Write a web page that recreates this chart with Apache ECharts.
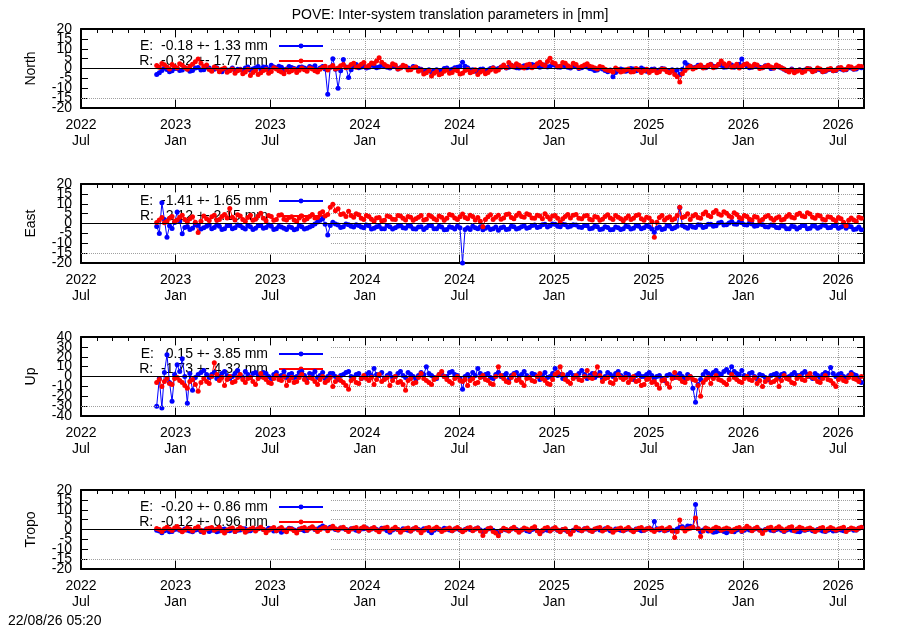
<!DOCTYPE html>
<html>
<head>
<meta charset="utf-8">
<title>POVE inter-system translation parameters</title>
<script src="https://cdn.jsdelivr.net/npm/echarts@6/dist/echarts.min.js"></script>
<style>
  html, body { margin: 0; padding: 0; background: #fff; }
  #main { width: 900px; height: 630px; }
</style>
</head>
<body>
<div id="main"></div>
<script>
// daily solutions, sampled every 5 days from the first day
const firstDay = '2022-11-25';
const stepDays = 5;

const panelNames = ['North', 'East', 'Up', 'Tropo'];
const yLimits = [20, 20, 40, 20];
const yIntervals = [5, 5, 10, 5];
const labelsE = ['E:  -0.18 +- 1.33 mm', 'E:  -1.41 +- 1.65 mm', 'E:   0.15 +- 3.85 mm', 'E:  -0.20 +- 0.86 mm'];
const labelsR = ['R:  -0.32 +- 1.77 mm', 'R:   2.12 +- 2.15 mm', 'R:  -1.73 +- 4.32 mm', 'R:  -0.12 +- 0.96 mm'];

const northE = [
  -3.0, -2.2, -1.0, 0.2, -0.5, -1.6, -1.2, 0.0, 0.0, -1.0, -0.8, 0.4, -0.2, -1.4, -1.0, 0.2, 0.5, -0.8, -0.6, 0.6,
  0.2, -1.0, -0.4, 0.4, -0.9, -1.6, -0.2, -0.8, -0.7, 0.2, -1.2, -0.4, -0.4, -1.0, 0.2, 0.8, -0.8, -0.2, 0.4, 1.0,
  -0.2, 0.8, 0.6, -0.4, 1.6, 0.8, 0.2, 1.2, 0.6, -0.6, -0.2, 1.0, 0.5, 0.0, -0.4, 0.6, 0.8, 0.2, -0.3, 1.0,
  0.4, 1.4, -0.6, 0.2, 1.0, -0.2, -13.0, 0.6, 5.0, -0.4, -10.0, -1.2, 4.5, 0.8, -4.5, -0.6, 1.0, 2.0, 0.4, 0.8,
  1.2, 0.2, 0.6, 1.8, 1.4, 0.4, 0.8, 1.6, 1.2, 0.6, 0.2, 1.2, 1.0, -0.2, 0.4, 1.2, 0.8, 0.2, -0.2, 1.0,
  0.6, 0.0, -0.4, -1.6, -1.2, -0.6, -1.8, -1.0, -0.6, -1.4, -1.0, 0.0, 0.2, -0.8, -0.4, 0.4, 0.6, 1.0, 3.2, 1.2,
  0.4, -0.8, -0.6, -1.4, -1.2, -0.4, -0.2, -1.0, -0.8, 0.0, 0.4, -0.4, 0.0, 0.8, 1.2, 0.2, 0.6, 1.6, 1.0, 0.4,
  0.2, 0.8, 1.4, 0.4, 0.8, 2.0, 1.6, 1.0, 0.6, 1.4, 1.8, 0.8, 1.0, 2.0, 1.6, 0.8, 0.6, 1.8, 1.2, 0.6,
  0.2, 1.2, 1.0, 0.0, 0.4, 1.2, 0.8, 0.0, -0.2, -1.0, -0.8, 0.2, -0.2, -1.0, -1.6, -0.8, -4.2, -2.0, -1.2, -0.2,
  -0.6, -1.4, -1.0, 0.0, -0.2, -1.2, -0.8, 0.2, -0.4, -1.4, -1.0, -0.4, -0.2, -1.2, -0.8, 0.0, -0.2, -1.0, -1.2, -0.6,
  -1.6, -0.8, -3.0, -0.4, 3.0, 1.8, 1.2, 0.4, 0.6, 1.6, 1.4, 0.6, 0.4, 1.4, 2.2, 1.2, 0.8, 2.0, 1.6, 0.6,
  0.8, 2.0, 1.8, 0.6, 1.0, 2.2, 4.8, 2.0, 1.2, 0.4, 0.6, 1.6, 1.4, 0.6, 0.4, 1.4, 1.0, 0.0, 0.2, 1.2,
  0.8, 0.2, -0.4, -1.2, -1.0, -0.2, -1.6, -1.0, -0.6, -1.4, -0.8, 0.0, -0.2, -1.0, -1.2, -0.2, -0.6, -1.6, -1.4, -0.6,
  -0.4, -1.2, -1.0, 0.2, -0.2, -0.8, -0.6, 0.4, 0.2, -0.4, -0.2, 0.8, 0.4
];
const northR = [
  1.5, 0.6, 2.5, 1.9, 0.8, -0.2, 2.0, 1.0, 0.3, 2.4, 1.6, 0.5, -0.4, 1.2, 2.2, 3.4, 4.8, 2.6, 1.0, 1.8,
  -0.5, -1.4, 0.8, 0.1, -1.6, -0.4, 0.2, -1.9, -1.2, -0.3, -2.4, -1.2, -0.6, -2.6, -1.8, -0.4, -3.5, -2.0, -1.0, -3.0,
  -2.2, -1.0, -0.5, -2.4, -1.5, 0.4, -0.2, -1.1, -1.8, -2.6, -0.6, -1.8, -1.2, -0.4, -2.0, -0.9, 0.3, -0.6, -1.4, 0.2,
  -0.3, -1.2, -1.8, -0.4, 0.5, 1.1, -0.8, 0.6, 1.5, -0.2, 0.2, 1.4, 2.0, 0.4, 0.8, 2.0, 2.6, 0.6, 1.2, 2.2,
  3.0, 0.8, 1.5, 2.8, 2.5, 3.8, 5.5, 3.2, 2.0, 1.2, 0.8, 2.4, 1.8, -0.2, 0.2, 1.6, 1.2, -0.8, -0.6, 0.4,
  0.8, -1.4, -0.8, -2.8, -2.2, -1.0, -3.8, -2.4, -1.5, -3.2, -2.6, -1.4, -0.8, -2.4, -2.0, -0.6, -1.2, -2.8, -2.4, -1.0,
  -0.5, -2.2, -1.6, -0.6, -3.0, -1.8, -1.0, -2.6, -2.0, -0.8, 0.2, -1.4, -0.8, 0.6, 1.8, 0.4, 3.0, 1.6, 0.8, 2.4,
  1.6, 0.6, 0.2, 1.8, 2.2, 0.4, 1.0, 2.4, 3.2, 2.0, 1.5, 3.6, 5.2, 3.0, 2.5, 0.9, 1.2, 3.0, 2.6, 1.4,
  0.8, 2.6, 2.0, 0.4, 1.0, 1.8, 2.4, 1.2, 0.8, 0.2, -0.3, 1.0, 0.6, -0.4, -0.9, -1.2, -1.8, 0.2, -0.5, -1.8,
  -1.4, -0.6, -0.2, -1.8, -1.6, 0.0, -0.6, -2.0, -1.2, -0.4, -2.0, -1.2, -0.8, -2.2, -1.6, -0.2, -0.4, -1.6, -2.2, -1.2,
  -3.0, -4.2, -6.8, -2.6, -1.0, 0.2, 1.2, -0.2, 0.4, 1.0, 1.8, 0.2, 0.6, 1.6, 2.0, 0.4, 1.0, 2.2, 3.8, 2.4,
  1.4, 2.6, 0.6, 1.2, 2.2, 0.2, 1.0, 2.0, 2.4, 1.4, 0.8, 2.2, 1.8, 0.0, 0.4, 1.2, 1.6, 0.8, 0.2, 1.8,
  1.2, 0.4, -0.2, -1.0, -1.8, -0.6, -2.2, -1.4, -0.8, -2.0, -1.4, 0.0, -0.2, -1.6, -1.0, 0.2, -0.3, -1.6, -1.2, -0.4,
  0.0, -1.2, -0.8, 0.2, 0.5, -0.6, -0.4, 1.0, 0.8, -0.2, 0.2, 1.2, 1.0
];
const eastE = [
  -1.5, -5.0, 10.5, 2.0, -7.0, -1.2, -2.5, 0.5, 5.8, 1.0, -5.2, -2.0, -1.5, -3.0, -2.4, -0.8, -1.0, -2.8, -2.2, -1.4,
  -0.8, -2.6, -2.0, -0.6, -1.4, -3.0, -2.6, -1.2, -1.0, -2.6, -2.2, -0.8, -1.2, -2.2, -2.8, -1.0, -1.6, -3.0, -2.4, -1.2,
  -1.0, -2.4, -2.0, -0.8, -1.4, -3.0, -2.6, -1.4, -1.8, -2.4, -3.0, -1.6, -2.0, -3.2, -2.8, -1.2, -1.6, -2.8, -2.4, -1.8,
  -1.2, -0.2, 0.8, 1.6, 2.4, -0.4, -5.8, -1.0, 0.6, -0.2, -0.8, -2.0, -1.6, -0.2, -0.6, -1.4, -1.8, -0.6, -1.0, -1.8,
  -2.2, -0.8, -1.2, -2.8, -2.4, -1.6, -1.4, -2.6, -2.6, -1.0, -1.6, -2.8, -2.2, -1.4, -1.0, -2.2, -2.4, -1.2, -1.4, -2.6,
  -2.8, -1.8, -1.6, -3.0, -2.2, -1.0, -1.2, -2.6, -2.6, -1.4, -1.8, -3.2, -3.0, -1.6, -2.0, -2.8, -1.4, -2.2, -20.0, -3.0,
  -2.2, -3.0, -1.4, -2.2, -2.6, -1.6, -3.2, -2.4, -1.8, -3.0, -2.6, -1.8, -3.4, -2.2, -1.8, -3.0, -2.8, -1.4, -1.6, -2.8,
  -2.4, -1.6, -1.2, -2.4, -2.0, -1.0, -0.8, -2.0, -1.6, -0.6, -0.4, -1.8, -1.2, -0.2, -0.4, -1.4, -1.6, -0.4, -0.6, -1.8,
  -1.4, -0.6, -0.8, -1.8, -2.0, -1.0, -1.2, -2.6, -2.4, -1.4, -1.6, -3.0, -2.8, -1.6, -2.0, -3.2, -3.0, -1.8, -2.2, -3.0,
  -2.6, -1.4, -1.6, -2.8, -2.4, -1.2, -1.4, -2.6, -2.2, -1.2, -1.6, -2.8, -4.4, -2.4, -1.8, -3.0, -2.6, -1.2, -1.4, -2.6,
  -2.2, -1.4, 8.0, -1.0, -1.8, -2.4, -1.0, -1.8, -2.0, -0.6, -0.8, -2.0, -1.6, -0.4, -0.4, -1.4, -1.2, 0.2, 0.6, -0.8,
  -0.6, 0.2, 1.0, -0.2, -0.4, 0.8, 0.4, -0.6, -0.8, 0.2, -0.2, -1.4, -1.2, -0.2, -0.6, -1.6, -1.8, -0.8, -1.0, -2.0,
  -2.2, -1.0, -1.4, -2.6, -2.6, -1.4, -1.6, -2.8, -2.0, -1.0, -1.2, -2.6, -2.4, -1.2, -1.4, -2.4, -1.8, -0.8, -1.0, -2.2,
  -2.0, -1.0, -1.2, -2.4, -1.8, -1.2, -2.4, -1.4, -1.6, -3.0, -2.8, -1.8, -3.2
];
const eastR = [
  0.5, 1.8, 3.0, 0.4, 1.2, 2.6, 3.6, 1.0, 1.8, 3.2, 4.2, 2.0, 0.8, 2.4, 3.4, 0.6, -4.5, 1.2, 3.8, 2.4,
  1.5, 3.4, 4.2, 1.6, 2.0, 3.6, 4.6, 2.8, 7.6, 3.2, 1.8, 4.4, 3.8, 2.0, 1.2, 3.0, 4.2, 1.6, 2.2, 3.8,
  5.2, 2.6, 1.4, 4.0, 3.6, 1.6, 2.0, 4.2, 4.4, 2.2, 1.8, 3.0, 3.4, 1.8, 1.0, 2.8, 3.8, 1.6, 2.4, 3.6,
  4.6, 2.8, 3.0, 5.2, 6.0, 3.8, 4.5, 8.2, 9.8, 6.4, 7.5, 4.6, 5.0, 3.6, 6.2, 4.0, 3.2, 5.0, 4.4, 2.6,
  2.0, 4.0, 3.6, 2.2, 1.2, 2.8, 3.0, 1.4, 1.6, 3.8, 3.4, 2.2, 2.0, 4.0, 3.8, 2.6, 1.8, 3.6, 3.2, 1.6,
  2.4, 3.2, 4.0, 1.8, 2.2, 4.2, 3.6, 2.4, 1.8, 3.8, 3.2, 1.6, 2.6, 4.6, 4.2, 2.8, 2.0, 3.4, 4.8, 3.0,
  2.4, 4.2, 3.6, 1.8, 3.0, 1.2, -1.6, 2.0, 3.4, 4.4, 2.0, 3.2, 4.2, 2.2, 2.8, 4.6, 4.8, 3.0, 2.4, 4.0,
  5.2, 3.6, 3.2, 5.0, 4.4, 2.8, 2.6, 4.2, 3.8, 2.4, 5.0, 3.4, 2.2, 3.8, 4.0, 2.6, 0.8, 2.4, 3.6, 4.6,
  2.8, 4.2, 4.6, 2.6, 2.4, 3.8, 4.0, 2.2, 1.8, 3.6, 3.2, 1.6, 2.2, 3.6, 4.4, 2.8, 2.0, 4.0, 3.2, 2.4,
  1.4, 2.6, 3.8, 2.0, 2.6, 4.0, 4.4, 2.4, 1.6, 3.2, 2.8, 1.0, -7.0, 0.6, 3.0, 4.0, 1.8, 2.8, 3.4, 1.8,
  2.4, 4.0, 8.2, 3.0, 3.6, 5.0, 2.0, 3.8, 4.6, 3.0, 2.6, 4.8, 5.8, 4.0, 3.4, 5.6, 6.6, 4.8, 4.2, 6.0,
  5.2, 3.8, 3.2, 5.4, 4.6, 3.0, 2.4, 4.0, 3.6, 2.2, 1.8, 3.6, 3.2, 1.4, 2.0, 3.4, 4.0, 2.6, 1.6, 2.8,
  3.4, 1.8, 2.2, 3.6, 4.6, 3.2, 2.8, 4.6, 5.2, 3.8, 3.4, 5.4, 4.8, 3.2, 2.6, 4.2, 3.8, 2.2, 1.8, 3.4,
  3.2, 2.0, 1.4, 3.0, 2.4, 0.6, -1.2, 1.6, 2.8, 1.8, 1.0, 3.2, 2.6
];
const upE = [
  -30, -2, -32, 4, 22, -6, -25, 2, 12, 5, 18, 0, -27, 3, -14, -1, 2, 4, 6, 2,
  -1, 2, 4, -2, 0, 3, 5, 1, -2, 0, 3, 6, 1, -1, 5, 2, -1, 3, 4, 1,
  0, 4, 3, 0, -2, 2, 4, 0, 1, 5, -1, 2, 3, -1, 0, 4, 5, 1, -2, 3,
  2, 5, -1, 1, 4, -2, 0, 3, 3, 0, -3, 1, 2, 4, 5, 0, -1, 2, 3, -2,
  0, 2, 4, 1, 8, 2, 1, 4, -2, 1, 3, -1, 0, 3, 5, 1, -1, 4, 2, 0,
  -3, 1, 4, 2, 10, 3, 1, -1, -2, 2, 3, 0, 0, 4, 5, 2, 1, -2, -13, 0,
  2, -1, 4, 1, 8, 3, 0, 2, 3, -1, -2, 2, 4, 0, 1, 3, -3, 1, 3, 4,
  0, 2, 5, 1, -1, 3, 2, 0, -3, 1, 4, -1, 0, 3, 8, 1, 2, -2, -1, 2,
  4, 1, 0, 3, 6, 2, -2, 1, 3, -1, 1, 4, -2, 0, 4, 2, 0, 3, 5, 1,
  -1, 3, 2, -1, -3, 1, 3, 0, 0, 2, 4, 1, -2, 0, 1, -2, -4, 1, 2, 0,
  -1, 1, 3, 0, -2, 2, 0, -12, -26, -8, -3, 2, 5, 3, 1, 4, 6, 3, 2, 5,
  7, 4, 10, 5, 3, 2, 6, 1, 0, 3, 4, 0, -2, 2, 1, -1, -3, 1, 2, 3,
  -1, 2, 3, -1, 0, 2, 4, 1, 1, 3, 5, 2, 0, -2, 3, 1, -1, 2, 4, 3,
  9, 3, 0, 2, 3, 0, -2, 1, 4, 2, 1, -3, -6
];
const upR = [
  -6, -3, -10, -5, -2, -7, -8, -2, -1, -4, -6, -9, -12, -5, -3, -8, -15, -6, -2, -5,
  -7, 0, 14, 2, -4, -1, -9, -3, 0, -6, -5, -1, 2, -3, -6, -2, -1, -5, -8, -2,
  3, -1, -3, -6, -7, -2, 1, -3, -4, 0, -9, -4, -1, -6, -5, -1, 2, -3, -6, -1,
  -2, -5, -8, -3, 0, -6, -4, -1, -10, -5, -1, -4, -6, -9, -13, -4, -2, -6, -7, -2,
  1, -2, -4, -1, -8, -3, 2, -5, -3, -1, -9, -4, 0, -6, -5, -8, -14, -4, -2, -7,
  -6, -1, 3, -2, -4, -6, -8, -3, -1, 2, 5, 0, -3, -5, -7, -2, 0, -4, -5, -3,
  -9, -4, -2, -7, -6, -1, 1, -3, -4, -7, -8, 0, 10, 1, -2, -5, -6, -1, 2, -4,
  -3, -6, -9, -2, -1, -4, -5, 0, 3, -2, -4, -7, -8, -3, 2, 4, 10, 2, -3, -5,
  -7, -2, 1, -3, -4, 0, 6, -1, -2, 3, 10, 1, -5, -2, -1, -6, -7, -3, 2, -1,
  -3, -1, -6, -3, 0, -5, -4, -9, -8, -3, -2, -6, -5, -8, -12, -4, -3, -7, -11, -2,
  4, -1, -2, -5, -6, -2, 0, -3, -4, -9, -20, -6, -3, -1, -7, -2, 1, -3, -4, -6,
  -8, -3, 2, -1, -3, -5, -6, -2, 0, -3, -4, -1, -7, -4, -10, -5, -2, -6, -5, -3,
  -10, -4, 1, -2, -3, -6, -7, -2, 0, -3, -4, 0, 3, -1, -2, -5, -6, -2, 1, -3,
  -4, -7, -10, -3, -1, -4, -5, -1, 2, -2, -3, -5, 0
];
const tropoE = [
  -0.4, -0.8, -1.6, -0.6, -0.2, -1.2, -1.0, 0.0, 0.2, -0.4, -0.8, 0.2, -0.4, -0.8, -1.2, -0.2, 0.0, -1.0, -0.6, 0.2,
  -1.0, -0.4, -0.2, -1.2, -0.8, 0.0, 0.2, -0.6, -0.6, 0.2, -1.0, -0.4, -0.2, 0.4, 0.4, -0.8, -0.6, 0.2, -0.2, 0.4,
  0.8, 0.0, -0.4, 0.6, 0.2, -0.8, -0.6, 0.2, -1.4, -0.6, -0.2, 0.6, 0.4, -0.2, -0.8, 0.2, 0.0, -0.6, -0.4, 0.6,
  1.0, 0.0, 0.2, 1.0, 1.8, 0.6, 0.4, 1.2, 0.8, 0.0, -0.2, 0.8, 0.6, 0.0, -0.4, 0.4, 0.2, -0.4, -0.8, 0.2,
  0.4, 0.8, -0.2, 0.2, 0.8, 0.0, -0.4, 0.6, 0.2, -0.6, -1.4, -0.2, 0.4, 0.0, -0.6, 0.4, 0.0, -0.4, -0.8, 0.2,
  0.6, 0.0, -0.4, 0.4, 0.2, -0.6, -1.6, -0.4, 0.4, 0.0, -0.2, 0.6, 0.2, -0.2, -0.6, 0.2, 0.4, -0.2, -0.8, 0.0,
  0.6, 0.0, -0.4, 0.2, 0.8, -0.2, -1.2, -0.4, 0.2, 0.6, -0.4, -1.0, -1.8, -0.6, 0.2, -0.2, -0.6, 0.2, 0.8, 0.0,
  -0.8, -0.2, 0.2, -0.6, -1.0, 0.0, 0.4, -0.6, -1.6, -0.8, 0.0, -0.4, -0.6, 0.2, 0.4, -0.4, -0.8, 0.0, -0.2, -1.0,
  -1.8, -0.4, 0.4, -0.2, -0.6, 0.4, 0.2, -0.4, -0.8, 0.0, 0.6, -0.2, -0.4, 0.4, 0.2, -0.6, -0.8, 0.2, 0.0, -0.4,
  -0.6, 0.0, 0.4, -0.2, -0.6, 0.2, 0.0, -0.6, -0.4, 0.2, 0.6, 0.0, 4.0, 0.4, -0.2, 0.2, -0.6, -0.2, 0.2, -0.4,
  -0.8, 0.2, 1.0, 1.4, 0.4, 1.8, 1.6, 1.2, 12.6, 0.4, -1.0, -0.2, 0.6, -0.8, -0.6, -1.4, -1.2, -0.6, -0.4, -1.0,
  -1.6, -0.8, -0.6, -1.2, -0.2, 0.2, -1.0, -0.4, 0.4, -0.2, -0.4, 0.2, 0.6, -0.2, -0.8, 0.0, 0.2, -0.4, -0.6, 0.0,
  0.4, -0.4, -1.0, -0.2, 0.2, -0.4, -0.6, -1.0, -1.2, -0.2, -0.4, 0.0, 0.2, -0.6, -0.8, 0.0, -0.2, -0.8, -1.0, -0.4,
  0.0, -0.8, -0.6, 0.0, -0.2, -0.6, -0.8, 0.0, 0.4, -0.4, -0.2, 0.6, 1.0
];
const tropoR = [
  0.5, 0.0, -1.0, 0.4, 1.2, 0.2, -0.5, 0.8, 1.5, 0.0, -1.2, -0.2, 0.8, 0.2, -0.8, 0.6, 1.4, -0.4, -1.5, 0.2,
  0.6, 1.0, -0.4, 0.2, 1.2, -0.6, -1.8, -0.2, 0.4, 0.8, -1.0, 0.0, 1.0, 0.2, -1.4, -0.4, 0.2, 0.8, -0.8, 0.4,
  1.2, 0.0, -1.6, -0.4, 0.4, 1.0, -0.6, 0.2, 1.0, -0.2, -1.2, 0.4, 0.2, -0.6, -1.8, 0.0, 0.6, 1.0, -0.4, 0.6,
  1.4, 0.2, -1.0, 0.0, 0.8, 1.2, -0.6, 0.6, 1.6, 0.4, -0.2, 0.8, 1.2, 0.0, -1.0, 0.2, 0.6, 1.0, -0.8, 0.6,
  1.4, 0.6, -0.4, 0.4, 1.0, -0.2, -1.2, 0.2, 0.8, 1.2, -0.6, 0.2, 1.2, 0.0, -1.4, -0.2, 0.4, 0.8, -0.8, 0.2,
  1.0, -0.2, -1.6, -0.4, 0.6, 1.0, -0.4, 0.4, 1.2, 0.2, -1.0, -0.2, 0.2, 0.8, -0.6, 0.2, 1.0, 0.0, -1.2, -0.2,
  0.6, 1.0, -0.6, 0.2, 0.8, -0.8, -3.0, -1.0, 0.4, 0.8, -1.0, -1.8, -3.2, -0.6, 0.6, 0.0, -0.8, 0.4, 1.2, -0.2,
  -1.4, -0.2, 0.8, 0.2, -0.4, 0.6, 1.4, -0.6, -2.2, -0.4, 0.6, 1.0, -0.8, 0.2, 1.0, -0.2, -1.2, 0.0, 0.4, -1.0,
  -2.4, -0.6, 1.2, 0.4, -0.6, 0.2, 0.8, -0.4, -1.0, 0.2, 0.6, 1.0, -0.8, 0.0, 1.0, 0.2, -1.4, -0.2, 0.4, 0.8,
  -0.6, 0.2, 1.0, -0.2, -1.2, 0.0, 0.6, 1.0, -0.4, 0.2, 0.8, -0.2, -1.0, 0.0, 0.4, 0.8, -0.6, 0.2, 1.0, -0.8,
  -4.0, -1.0, 4.8, 0.6, -0.8, 0.2, 0.6, 1.2, 5.8, 0.4, -3.6, -0.8, 0.8, 0.2, -0.6, 0.4, 1.2, 0.6, -0.4, 0.2,
  0.8, 0.2, -1.0, 0.0, 0.6, 1.0, -0.8, 0.4, 1.6, 0.8, -0.6, 0.4, 1.2, -0.4, -2.0, -0.2, 0.8, 1.2, -0.4, 0.6,
  1.4, 0.4, -0.8, 0.2, 1.0, 1.4, -0.6, 0.2, 1.2, 0.6, -0.2, 0.4, 0.8, 0.0, -1.0, -0.2, 0.6, 1.0, -0.8, 0.2,
  1.0, 0.4, -0.4, 0.2, 0.6, 1.2, -1.0, 0.0, 0.8, 0.4, -0.2, 0.6, 1.2
];

const valuesE = [northE, eastE, upE, tropoE];
const valuesR = [northR, eastR, upR, tropoR];

// layout
const panelTop = [29, 184, 337, 490];
const panelHeight = 79;
const xMax = 49.65;            // months after 2022 Jul 1 at the right frame
const font = '"Liberation Sans", Arial, sans-serif';
const blue = '#0000ff';
const red = '#ff0000';
const gridGrey = '#a0a0a0';

// x axis unit: months since 2022-07-01
function monthPos(t) {
  const d = new Date(t);
  const y = d.getUTCFullYear(), m = d.getUTCMonth();
  const dim = new Date(Date.UTC(y, m + 1, 0)).getUTCDate();
  return (y - 2022) * 12 + m - 6 + (d.getUTCDate() - 1) / dim;
}
const t0 = Date.parse(firstDay + 'T00:00:00Z');
function toPairs(vals) {
  return vals.map((v, i) => [monthPos(t0 + i * stepDays * 86400000), v]);
}

function xLabel(v) {
  if (Math.abs(v % 6) > 1e-6) return '';
  const yr = 2022 + Math.floor((v + 6) / 12);
  return yr + '\n' + (v % 12 === 0 ? 'Jul' : 'Jan');
}

const grids = [], xAxes = [], yAxes = [], series = [], legends = [], graphics = [];
const tickStyle = { color: '#000', width: 1 };
const frameLine = { show: true, onZero: false, lineStyle: { color: '#000', width: 2 } };
const labelFont = { color: '#000', fontSize: 14, fontFamily: font };

panelNames.forEach((name, p) => {
  const lim = yLimits[p];
  const step = yIntervals[p];
  grids.push({ left: 81, right: 36, top: panelTop[p], height: panelHeight, outerBoundsMode: 'none' });

  const xBase = {
    gridIndex: p, type: 'value', min: 0, max: xMax,
    axisLine: { show: false, onZero: false },
    axisTick: { show: false },
    axisLabel: { show: false },
    splitLine: { show: false }
  };
  // labelled axis with the 6-month grid and long ticks
  xAxes.push(Object.assign({}, xBase, {
    interval: 6,
    axisLine: frameLine,
    axisTick: { show: true, inside: true, length: 8, lineStyle: tickStyle },
    axisLabel: Object.assign({
      show: true, margin: 9, lineHeight: 16, formatter: xLabel, showMinLabel: true
    }, labelFont),
    splitLine: { show: true, lineStyle: { color: gridGrey, type: 'dotted', width: 1 } }
  }));
  // monthly ticks, bottom
  xAxes.push(Object.assign({}, xBase, {
    interval: 1,
    axisTick: { show: true, inside: true, length: 4, lineStyle: tickStyle }
  }));
  // top mirror: monthly and 6-month ticks
  xAxes.push(Object.assign({}, xBase, {
    position: 'top', interval: 1,
    axisLine: frameLine,
    axisTick: { show: true, inside: true, length: 4, lineStyle: tickStyle }
  }));
  xAxes.push(Object.assign({}, xBase, {
    position: 'top', interval: 6,
    axisTick: { show: true, inside: true, length: 8, lineStyle: tickStyle }
  }));

  const yBase = {
    gridIndex: p, type: 'value', min: -lim, max: lim,
    axisLine: { show: false, onZero: false },
    axisTick: { show: false },
    axisLabel: { show: false },
    splitLine: { show: false }
  };
  // main left axis: frame, ticks, grid, odd-step labels
  yAxes.push(Object.assign({}, yBase, {
    position: 'left', interval: step,
    axisLine: frameLine,
    axisTick: { show: true, inside: true, length: 7, lineStyle: tickStyle },
    axisLabel: Object.assign({
      show: true, margin: 9, showMinLabel: true, showMaxLabel: true,
      formatter: v => (Math.round(v / step) % 2 !== 0 ? String(v) : '')
    }, labelFont),
    splitLine: { show: true, lineStyle: { color: gridGrey, type: 'dotted', width: 1 } }
  }));
  // second left axis: even-step labels and the axis name
  yAxes.push(Object.assign({}, yBase, {
    position: 'left', interval: step * 2,
    name: name, nameLocation: 'middle', nameGap: 43, nameRotate: 90,
    nameTextStyle: labelFont,
    axisLabel: Object.assign({ show: true, margin: 9, showMinLabel: true, showMaxLabel: true }, labelFont)
  }));
  // right mirror
  yAxes.push(Object.assign({}, yBase, {
    position: 'right', interval: step,
    axisLine: frameLine,
    axisTick: { show: true, inside: true, length: 7, lineStyle: tickStyle }
  }));

  const common = {
    type: 'line', xAxisIndex: p * 4, yAxisIndex: p * 3,
    symbol: 'circle', symbolSize: 5, animation: false, clip: true
  };
  series.push(Object.assign({}, common, {
    name: name + ' E', data: toPairs(valuesE[p]),
    lineStyle: { width: 1, color: blue }, itemStyle: { color: blue }
  }));
  series.push(Object.assign({}, common, {
    name: name + ' R', data: toPairs(valuesR[p]),
    lineStyle: { width: 1, color: red }, itemStyle: { color: red },
    markLine: {
      silent: true, symbol: 'none', animation: false, label: { show: false },
      data: [
        { yAxis: 0, lineStyle: { color: '#000', type: 'solid', width: 1 } },
        { yAxis: -lim * 0.75, lineStyle: { color: gridGrey, type: 'dotted', width: 1 } }
      ]
    }
  }));

  [[name + ' E', labelsE[p], 17], [name + ' R', labelsR[p], 32]].forEach(([sname, text, dy]) => {
    legends.push({
      data: [sname], right: 576, top: panelTop[p] + dy - 7,
      align: 'right', padding: 0, itemWidth: 44, itemHeight: 6,
      selectedMode: false, z: 1.5, formatter: () => text,
      textStyle: Object.assign({ padding: [0, 6, 0, 0] }, labelFont)
    });
  });

  // key box hides the grid behind it
  graphics.push({
    type: 'rect', silent: true, z: 1,
    left: 89, top: panelTop[p] + 9,
    shape: { width: 241, height: panelHeight - 18 },
    style: { fill: '#fff' }
  });
});

graphics.push({
  type: 'text', left: 8, top: 614, silent: true,
  style: { text: '22/08/26 05:20', fontSize: 14, fontFamily: font, fill: '#000' }
});

const chart = echarts.init(document.getElementById('main'));
chart.setOption({
  animation: false,
  backgroundColor: '#fff',
  title: {
    text: 'POVE: Inter-system translation parameters in [mm]',
    left: 'center', top: 3,
    textStyle: { color: '#000', fontSize: 14, fontWeight: 'normal', fontFamily: font }
  },
  legend: legends,
  grid: grids,
  xAxis: xAxes,
  yAxis: yAxes,
  graphic: graphics,
  series: series
});
</script>
</body>
</html>
